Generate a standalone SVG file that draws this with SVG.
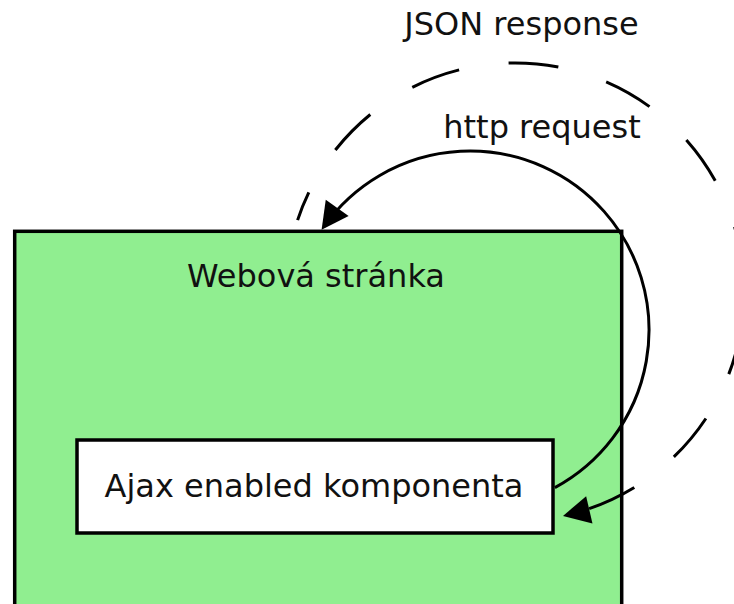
<svg xmlns="http://www.w3.org/2000/svg" width="734" height="604" viewBox="0 0 734 604">
  <style>
    .box { stroke: #000; stroke-width: 3.5; }
    .page { fill: #90ee90; }
    .comp { fill: #ffffff; }
    .label { font-family: "DejaVu Sans", "Liberation Sans", sans-serif; font-size: 32px; fill: #111; text-anchor: middle; }
    .flow { fill: none; stroke: #000; stroke-width: 3; }
    .dashed { stroke-dasharray: 50 50; stroke-dashoffset: 20; }
  </style>
  <defs>
    <marker id="arrow" markerUnits="userSpaceOnUse" viewBox="-28 -15 33 30" markerWidth="33" markerHeight="30" refX="-4" refY="0" orient="auto">
      <path d="M0,0 L-27,-14 L-27,14 z" fill="#000"/>
    </marker>
  </defs>

  <!-- web page -->
  <g id="webova-stranka">
    <rect class="box page" x="14.7" y="231.3" width="607" height="400"/>
    <text class="label" x="316" y="287">Webová stránka</text>
  </g>

  <!-- ajax component inside the page -->
  <g id="ajax-komponenta">
    <rect class="box comp" x="77" y="440" width="476" height="93"/>
    <text class="label" x="314" y="497">Ajax enabled komponenta</text>
  </g>

  <!-- request / response loops -->
  <g id="connectors">
    <path id="http-request" class="flow" d="M554.9,487.6 A179,179 0 1 0 323.9,226.6" marker-end="url(#arrow)"/>
    <path id="json-response" class="flow dashed" d="M297.6,220.1 A229,229 0 1 1 566.9,515.0" marker-end="url(#arrow)"/>
    <text class="label" x="542" y="138">http request</text>
    <text class="label" x="521.5" y="35">JSON response</text>
  </g>
</svg>
